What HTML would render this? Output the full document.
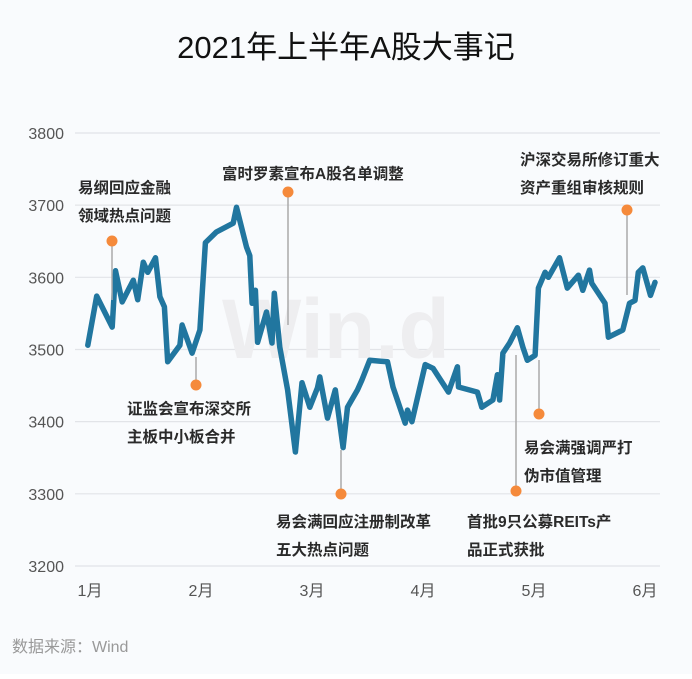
<!DOCTYPE html>
<html><head><meta charset="utf-8"><style>
body{margin:0;background:#fff;}
svg text{font-family:"Liberation Sans","Noto Sans CJK SC",sans-serif;}
</style></head><body>
<svg width="692" height="674" viewBox="0 0 692 674" xmlns="http://www.w3.org/2000/svg">
<rect x="0" y="0" width="692" height="674" fill="#f9fbfd"/>
<text x="346" y="58" text-anchor="middle" font-size="31" fill="#111">2021年上半年A股大事记</text>
<g id="grid"></g>
<g id="yaxis"></g>
<g id="xaxis"></g>
<text x="222" y="358" font-size="84" font-weight="bold" fill="#eeeef0">Win.d</text>
<path id="line" fill="none" stroke="#21769f" stroke-width="5.5" stroke-linejoin="round" stroke-linecap="round"/>
<g id="ann"></g>
<text x="12" y="652" font-size="16" fill="#999">数据来源：Wind</text>
</svg>
<script>
const months=["1月","2月","3月","4月","5月","6月"];
const yTicks=[3200,3300,3400,3500,3600,3700,3800];
const xs=[-0.02,0.06,0.20,0.23,0.29,0.39,0.43,0.48,0.52,0.59,0.63,0.67,0.70,0.81,0.83,0.92,0.99,1.04,1.14,1.29,1.32,1.41,1.44,1.46,1.49,1.51,1.59,1.64,1.66,1.71,1.78,1.85,1.91,1.98,2.05,2.07,2.14,2.21,2.28,2.32,2.41,2.45,2.52,2.68,2.73,2.84,2.86,2.90,3.02,3.09,3.23,3.31,3.32,3.49,3.53,3.63,3.67,3.69,3.72,3.78,3.85,3.90,3.94,4.01,4.04,4.10,4.13,4.23,4.30,4.40,4.44,4.50,4.52,4.64,4.67,4.80,4.86,4.91,4.94,4.98,5.05,5.09];
const values=[3506,3574,3531,3609,3566,3596,3569,3621,3607,3627,3573,3559,3483,3506,3534,3495,3527,3648,3663,3675,3697,3642,3630,3564,3582,3510,3552,3509,3578,3503,3444,3358,3454,3420,3447,3462,3405,3444,3364,3420,3444,3458,3485,3483,3448,3398,3416,3400,3479,3474,3441,3476,3448,3441,3420,3430,3465,3430,3495,3509,3530,3503,3485,3492,3585,3607,3600,3627,3585,3603,3582,3610,3592,3564,3517,3527,3564,3568,3607,3613,3575,3593];
const annTexts=[["易纲回应金融","领域热点问题"],["证监会宣布深交所","主板中小板合并"],["富时罗素宣布A股名单调整"],["易会满回应注册制改革","五大热点问题"],["首批9只公募REITs产","品正式获批"],["易会满强调严打","伪市值管理"],["沪深交易所修订重大","资产重组审核规则"]];
const X=m=>90+m*111;
const Y=v=>566-(v-3200)*0.7217;
const NS="http://www.w3.org/2000/svg";
function mk(tag,attrs,parent,txt){const e=document.createElementNS(NS,tag);for(const k in attrs)e.setAttribute(k,attrs[k]);if(txt!==undefined)e.textContent=txt;parent.appendChild(e);return e;}
const grid=document.getElementById('grid'),ya=document.getElementById('yaxis'),xa=document.getElementById('xaxis');
yTicks.forEach(t=>{
  const l=mk('line',{x1:75,x2:660,y1:Y(t),y2:Y(t),stroke:'#e2e4e8','stroke-width':1.2},grid);
  
  
  const tx=mk('text',{x:64,y:Y(t)+6,'text-anchor':'end','font-size':16,fill:'#555'},ya,String(t));
  
  
});
months.forEach((m,i)=>{
  const tx=mk('text',{x:X(i),y:596,'text-anchor':'middle','font-size':16,fill:'#555'},xa,m);
  
  
});
document.getElementById('line').setAttribute('d',xs.map((x,i)=>(i?'L':'M')+X(x).toFixed(1)+','+Y(values[i]).toFixed(1)).join(''));
const ann=document.getElementById('ann');
const stems=[[112,241,300],[196,385,357],[288,192,325],[341,494,450],[516,491,355],[539,414,360],[627,210,295]];
const labels=[[78,193],[127,414],[222,179],[276,527],[467,527],[524,453],[520,165]];
stems.forEach((s,i)=>{
  const l=mk('line',{x1:s[0],x2:s[0],y1:s[1],y2:s[2],stroke:'#aaa','stroke-width':1.5},ann);
  
  
  const c=mk('circle',{cx:s[0],cy:s[1],r:5.5,fill:'#f58a3b'},ann);
  
  
  annTexts[i].forEach((t,j)=>{
    const tx=mk('text',{x:labels[i][0],y:labels[i][1]+j*28,'font-size':15.5,'font-weight':'bold',fill:'#2a2a2a'},ann,t);
    
    
  });
});
</script>
</body></html>
